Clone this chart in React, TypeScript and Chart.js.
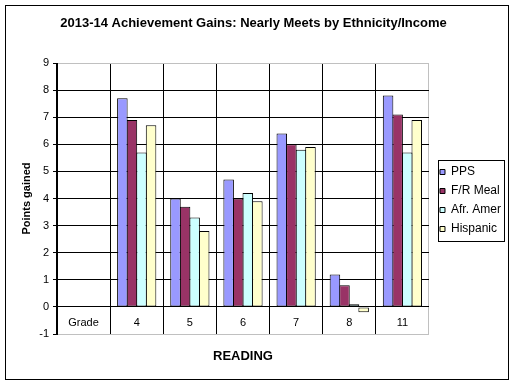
import React, { useEffect, useRef } from "react";
import { Chart, registerables } from "chart.js";

Chart.register(...registerables);

const titleText = "2013-14 Achievement Gains: Nearly Meets by Ethnicity/Income";
const xTitle = "READING";
const yTitle = "Points gained";
const categories = ["Grade", "4", "5", "6", "7", "8", "11"];
const seriesNames = ["PPS", "F/R Meal", "Afr. Amer", "Hispanic"];
const pps = [null, 7.7, 4.0, 4.7, 6.4, 1.2, 7.8];
const frMeal = [null, 6.9, 3.7, 4.0, 6.0, 0.8, 7.1];
const afrAmer = [null, 5.7, 3.3, 4.2, 5.8, 0.1, 5.7];
const hispanic = [null, 6.7, 2.8, 3.9, 5.9, -0.2, 6.9];
const seriesColors = ["#9999FF", "#993366", "#CCFFFF", "#FFFFCC"];
const yMin = -1;
const yMax = 9;
const yStep = 1;

const FONT = "'Liberation Sans', Arial, sans-serif";

const framePlugin = {
  id: "frame",
  beforeDraw(chart: any) {
    const ctx = chart.ctx;
    ctx.save();
    ctx.fillStyle = "#ffffff";
    ctx.fillRect(0, 0, chart.width, chart.height);
    ctx.restore();
  },
  afterLayout(chart: any) {
    const lg = chart.legend;
    if (lg) {
      lg.left += 4;
      lg.right += 4;
      lg.top += 2;
      lg.bottom += 2;
    }
  },
  afterDraw(chart: any) {
    const ctx = chart.ctx;
    ctx.save();
    ctx.strokeStyle = "#000000";
    ctx.lineWidth = 1;
    ctx.strokeRect(5.5, 5.5, 503, 374);
    const lg = chart.legend;
    if (lg && lg.legendHitBoxes && lg.legendHitBoxes.length) {
      const hb = lg.legendHitBoxes;
      const left = hb[0].left - 2;
      const top = hb[0].top - 6;
      let right = 0;
      hb.forEach((h: any) => {
        right = Math.max(right, h.left + h.width);
      });
      const last = hb[hb.length - 1];
      const bottom = last.top + last.height + 6;
      ctx.strokeRect(Math.round(left) + 0.5, Math.round(top) + 0.5, Math.round(right + 3 - left), Math.round(bottom - top));
    }
    ctx.restore();
  },
};

export default function App() {
  const ref = useRef<HTMLCanvasElement>(null);
  useEffect(() => {
    if (!ref.current) return;
    const data = [pps, frMeal, afrAmer, hispanic];
    const chart = new Chart(ref.current, {
      type: "bar",
      data: {
        labels: categories,
        datasets: seriesNames.map((name, i) => ({
          label: name,
          data: data[i] as any,
          backgroundColor: seriesColors[i],
          borderColor: "#000000",
          borderWidth: 1,
          borderSkipped: false,
          categoryPercentage: 0.72,
          barPercentage: 1.1,
        })),
      },
      options: {
        responsive: false,
        animation: false,
        layout: { padding: { left: 0, top: 0, right: 7, bottom: 0 } },
        plugins: {
          title: {
            display: true,
            text: titleText,
            color: "#000000",
            font: { family: FONT, size: 13, weight: "bold" },
            padding: { top: 16, bottom: 31.4 },
          },
          subtitle: {
            display: true,
            text: xTitle,
            position: "bottom",
            fullSize: false,
            color: "#000000",
            font: { family: FONT, size: 13, weight: "bold" },
            padding: { top: 14.2, bottom: 20.2 },
          },
          legend: {
            position: "right",
            fullSize: false,
            labels: {
              boxWidth: 5,
              boxHeight: 5,
              padding: 7,
              color: "#000000",
              font: { family: FONT, size: 12 },
            },
          },
          tooltip: { enabled: false },
        },
        scales: {
          x: {
            position: { y: 0 } as any,
            offset: true,
            grid: {
              offset: true,
              drawTicks: false,
              color: (c: any) => (c.type === "scale" ? "#c0c0c0" : "#000000"),
              lineWidth: 1,
            },
            border: { color: "#000000", width: 1 },
            ticks: {
              color: "#000000",
              font: { family: FONT, size: 11 },
              padding: 9,
              maxRotation: 0,
            },
          },
          y: {
            min: yMin,
            max: yMax,
            afterFit: (scale: any) => {
              scale.width = 57;
            },
            ticks: {
              stepSize: yStep,
              color: "#000000",
              font: { family: FONT, size: 11 },
              padding: 4,
            },
            grid: {
              color: (c: any) =>
                c.tick && (c.tick.value === yMax || c.tick.value === yMin) ? "#c0c0c0" : "#000000",
              tickColor: "#000000",
              tickLength: 4,
              lineWidth: 1,
            },
            border: { color: "#000000", width: 1 },
            title: {
              display: true,
              text: yTitle,
              color: "#000000",
              font: { family: FONT, size: 11, weight: "bold" },
              padding: { top: 20, bottom: 0 },
            },
          },
        },
      },
      plugins: [framePlugin],
    });
    return () => chart.destroy();
  }, []);
  return (
    <div style={{ position: "absolute", left: 0, top: 0, width: 514, height: 384 }}>
      <canvas ref={ref} width={514} height={384} style={{ display: "block" }} />
    </div>
  );
}
